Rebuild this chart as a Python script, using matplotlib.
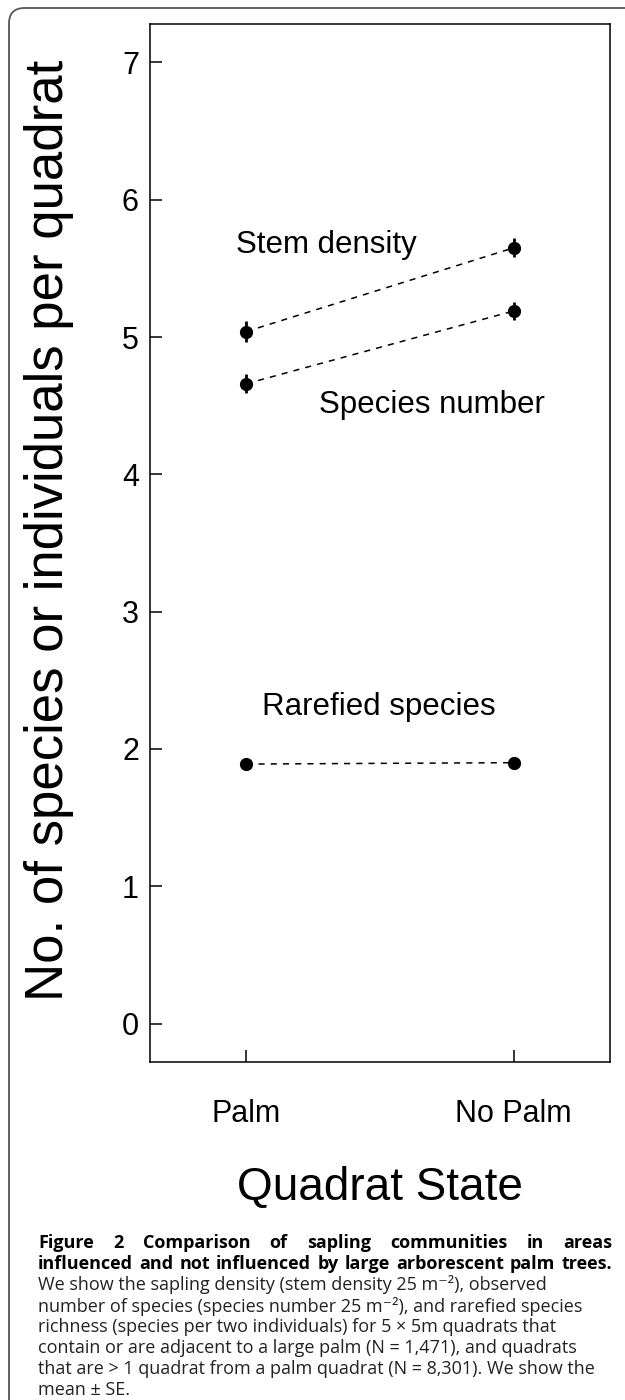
import numpy as np
import matplotlib.pyplot as plt
from matplotlib.patches import FancyBboxPatch

plt.rcParams['font.family'] = ['Liberation Sans', 'DejaVu Sans']

# 데이터
states = ['Palm', 'No Palm']
x_pos = [1, 2]
stem_density = [5.04, 5.65]
stem_se = [0.075, 0.07]
species_number = [4.66, 5.19]
species_se = [0.07, 0.065]
rarefied = [1.89, 1.90]
rarefied_se = [0.01, 0.01]

W, H = 625, 1400
fig = plt.figure(figsize=(W / 100, H / 100), dpi=100)

# 바깥 둥근 테두리
frame = FancyBboxPatch((9 / W, -0.05), 1.2, 1 - 8 / H + 0.05,
                       boxstyle='round,pad=0,rounding_size=0.025',
                       transform=fig.transFigure, fill=False,
                       ec='#555555', lw=1.3, mutation_aspect=W / H)
fig.patches.append(frame)

ax = fig.add_axes([150 / W, 1 - 1062 / H, 460 / W, (1062 - 24) / H])

for y, se in [(stem_density, stem_se), (species_number, species_se),
              (rarefied, rarefied_se)]:
    ax.plot(x_pos, y, ls=(0, (4, 4)), color='black', lw=1.1)
    ax.errorbar(x_pos, y, yerr=se, fmt='o', color='black', ms=8.5,
                elinewidth=2, capsize=0, zorder=3)

ax.text(0.963, 5.615, 'Stem density', fontsize=22.5, va='baseline')
ax.text(1.272, 4.45, 'Species number', fontsize=22.5, va='baseline')
ax.text(1.06, 2.245, 'Rarefied species', fontsize=22.5, va='baseline')

ax.set_xlim(0.64, 2.36)
ax.set_ylim(-0.28, 7.28)
ax.set_xticks(x_pos)
ax.set_xticklabels(states)
ax.set_yticks(range(8))
ax.tick_params(direction='in', length=8.5, width=1.1, labelsize=22, pad=8)
ax.tick_params(axis='x', pad=27)
for s in ax.spines.values():
    s.set_linewidth(1.1)
ax.set_xlabel('Quadrat State', fontsize=33, labelpad=26)
ax.set_ylabel('No. of species or individuals per quadrat', fontsize=38)
ax.yaxis.set_label_coords(-0.165, 0.5125)

# 캡션
cap_font = ['Open Sans', 'DejaVu Sans']
cap_size = 13
x0, x1 = 38, 612
line_y = [1243 + 21 * i for i in range(8)]
r = fig.canvas.get_renderer()


def justify(words, ypix, weight):
    ts = [fig.text(0, 1 - ypix / H, w, fontsize=cap_size, family=cap_font,
                   weight=weight, va='center') for w in words]
    ws = [t.get_window_extent(r).width for t in ts]
    gap = (x1 - x0 - sum(ws)) / (len(words) - 1)
    x = x0
    for t, w in zip(ts, ws):
        t.set_x(x / W)
        x += w + gap


justify('Figure 2 Comparison of sapling communities in areas'.split(), line_y[0], 'bold')
justify('influenced and not influenced by large arborescent palm trees.'.split(), line_y[1], 'bold')

plain = ['We show the sapling density (stem density 25 m\u207b\u00b2), observed',
         'number of species (species number 25 m\u207b\u00b2), and rarefied species',
         'richness (species per two individuals) for 5 \u00d7 5m quadrats that',
         'contain or are adjacent to a large palm (N = 1,471), and quadrats',
         'that are > 1 quadrat from a palm quadrat (N = 8,301). We show the',
         'mean \u00b1 SE.']
for yy, s in zip(line_y[2:], plain):
    fig.text(x0 / W, 1 - yy / H, s, fontsize=cap_size, family=cap_font,
             va='center', color='#222222')

fig.savefig('out.png', dpi=100)
